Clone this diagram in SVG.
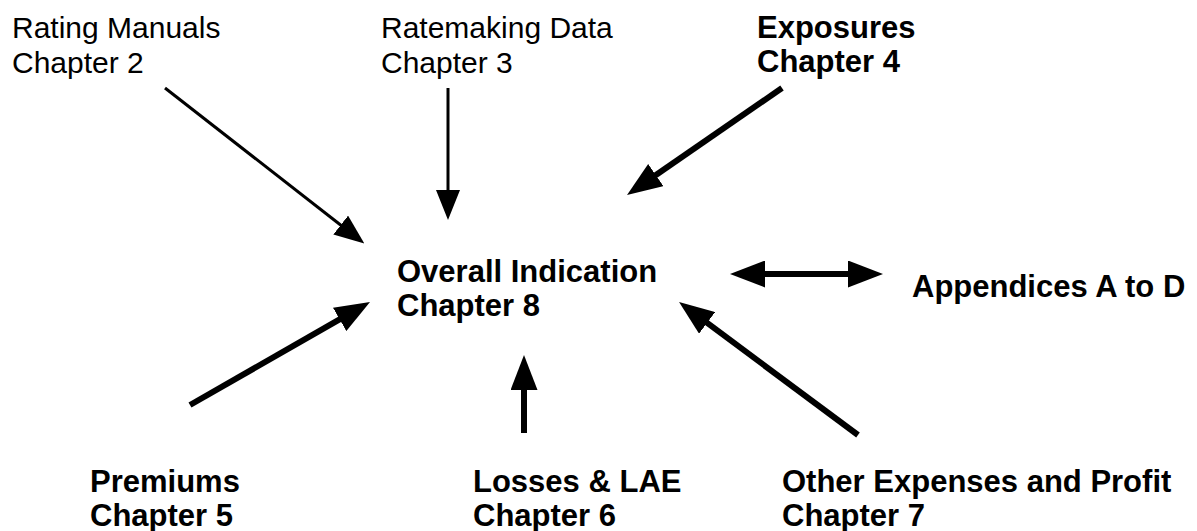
<svg xmlns="http://www.w3.org/2000/svg" width="1197" height="531" viewBox="0 0 1197 531">
<style>
text{font-family:"Liberation Sans",Arial,Helvetica,sans-serif;fill:#000}
.r{font-size:30px}
.b{font-size:31px;font-weight:bold}
.thin{stroke:#000;stroke-width:3;fill:none;marker-end:url(#hs)}
.thick{stroke:#000;stroke-width:6;fill:none;marker-end:url(#hl)}
</style>
<defs>
<marker id="hs" markerUnits="userSpaceOnUse" markerWidth="30" markerHeight="24" refX="8" refY="12" orient="auto">
<path d="M0,0 L30,12 L0,24 z" fill="#000"/>
</marker>
<marker id="hl" markerUnits="userSpaceOnUse" markerWidth="35" markerHeight="27" refX="10" refY="13.5" orient="auto-start-reverse">
<path d="M0,0 L35,13.5 L0,27 z" fill="#000"/>
</marker>
</defs>
<rect width="1197" height="531" fill="#fff"/>
<g id="rating"><text class="r" x="12" y="38">Rating Manuals</text><text class="r" x="12" y="73">Chapter 2</text></g>
<g id="ratemaking"><text class="r" x="381" y="38">Ratemaking Data</text><text class="r" x="381" y="73">Chapter 3</text></g>
<g id="exposures"><text class="b" x="757" y="38">Exposures</text><text class="b" x="757" y="72">Chapter 4</text></g>
<g id="overall"><text class="b" x="397" y="282">Overall Indication</text><text class="b" x="397" y="316">Chapter 8</text></g>
<g id="appendices"><text class="b" x="912" y="297">Appendices A to D</text></g>
<g id="premiums"><text class="b" x="90" y="492">Premiums</text><text class="b" x="90" y="526">Chapter 5</text></g>
<g id="losses"><text class="b" x="473" y="492">Losses &amp; LAE</text><text class="b" x="473" y="526">Chapter 6</text></g>
<g id="other"><text class="b" x="782" y="492">Other Expenses and Profit</text><text class="b" x="782" y="526">Chapter 7</text></g>
<g id="connectors">
<line class="thin" x1="165" y1="88" x2="347" y2="230"/>
<line class="thin" x1="448" y1="88" x2="448" y2="198"/>
<line class="thick" x1="782" y1="88" x2="647.6" y2="180.8"/>
<line class="thick" x1="755" y1="274" x2="858" y2="274" style="marker-start:url(#hl)"/>
<line class="thick" x1="190" y1="405" x2="348.3" y2="314.4"/>
<line class="thick" x1="524" y1="433" x2="524" y2="380"/>
<line class="thick" x1="858" y1="435" x2="699.1" y2="316.9"/>
</g>
</svg>
